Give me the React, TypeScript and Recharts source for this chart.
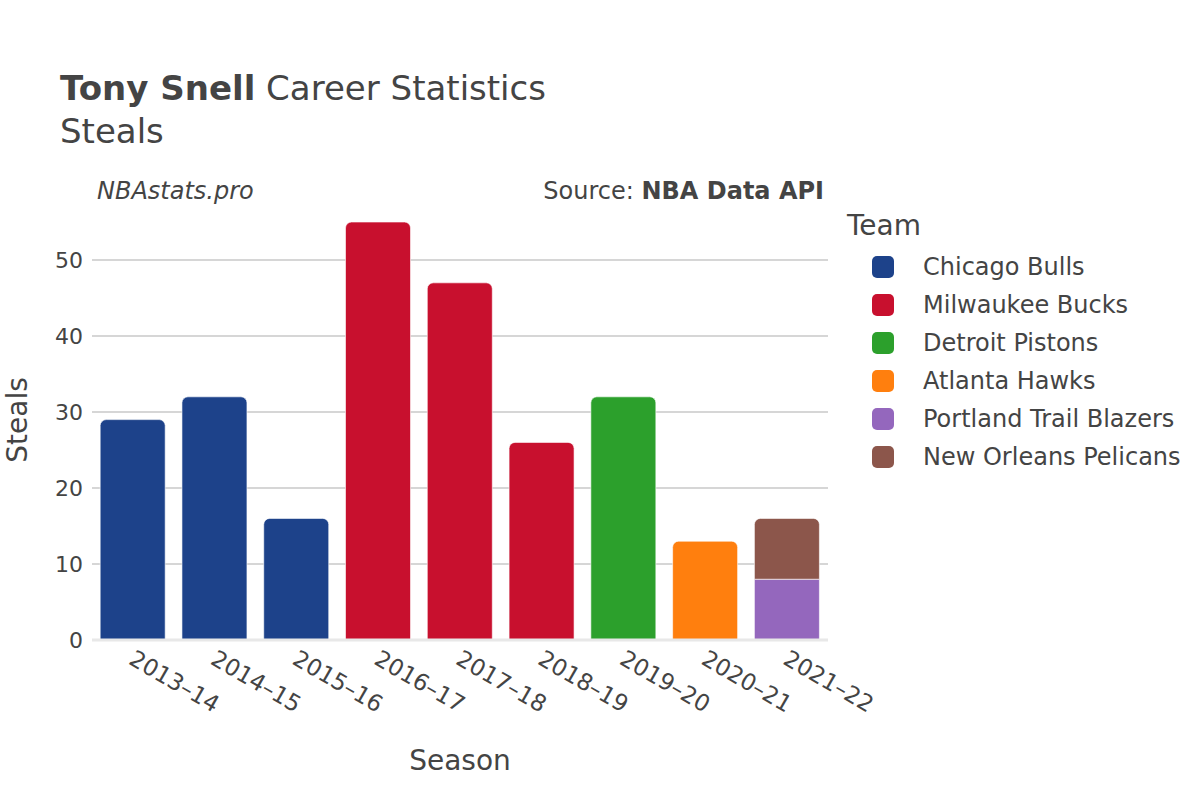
import React from "react";
import {
  BarChart,
  Bar,
  XAxis,
  YAxis,
  CartesianGrid,
  ReferenceLine,
} from "recharts";

const seasons = [
  "2013–14",
  "2014–15",
  "2015–16",
  "2016–17",
  "2017–18",
  "2018–19",
  "2019–20",
  "2020–21",
  "2021–22",
];

const teams = [
  "Chicago Bulls",
  "Milwaukee Bucks",
  "Detroit Pistons",
  "Atlanta Hawks",
  "Portland Trail Blazers",
  "New Orleans Pelicans",
];

const teamColors = ["#1D428A", "#C8102E", "#2CA02C", "#FF7F0E", "#9467BD", "#8C564B"];

// steals per season for each team (0 = did not play for them)
const chicagoBulls = [29, 32, 16, 0, 0, 0, 0, 0, 0];
const milwaukeeBucks = [0, 0, 0, 55, 47, 26, 0, 0, 0];
const detroitPistons = [0, 0, 0, 0, 0, 0, 32, 0, 0];
const atlantaHawks = [0, 0, 0, 0, 0, 0, 0, 13, 0];
const portlandTrailBlazers = [0, 0, 0, 0, 0, 0, 0, 0, 8];
const newOrleansPelicans = [0, 0, 0, 0, 0, 0, 0, 0, 8];

const yTicks = [0, 10, 20, 30, 40, 50];

const teamValues = [
  chicagoBulls,
  milwaukeeBucks,
  detroitPistons,
  atlantaHawks,
  portlandTrailBlazers,
  newOrleansPelicans,
];

const data = seasons.map((season, i) => {
  const row: Record<string, string | number | null> = { season };
  teams.forEach((team, t) => {
    row[team] = teamValues[t][i] || null;
  });
  return row;
});

const FONT = "DejaVu Sans, sans-serif";
const TEXT = "#444";

function SeasonTick(props: any) {
  const { x, y, payload } = props;
  return (
    <g transform={`translate(${x},${y}) rotate(30)`}>
      <text x={3} y={16} textAnchor="start" fontSize={23} fill={TEXT} fontFamily={FONT}>
        {payload.value}
      </text>
    </g>
  );
}

export default function App() {
  return (
    <div
      style={{
        position: "absolute",
        left: 0,
        top: 0,
        width: 1200,
        height: 800,
        background: "#fff",
        fontFamily: FONT,
        color: TEXT,
      }}
    >
      <BarChart
        width={1200}
        height={800}
        data={data}
        margin={{ top: 200, right: 372, left: 32, bottom: 60 }}
        barCategoryGap="10%"
      >
        <CartesianGrid
          vertical={false}
          horizontalValues={yTicks.slice(1)}
          stroke="#c8c8c8"
          strokeWidth={1.5}
        />
        <XAxis
          dataKey="season"
          axisLine={false}
          tickLine={false}
          tick={<SeasonTick />}
          interval={0}
          height={100}
        />
        <YAxis
          width={60}
          domain={[0, 57.9]}
          ticks={yTicks}
          axisLine={false}
          tickLine={false}
          tick={{ fill: TEXT, fontSize: 22, fontFamily: FONT }}
          tickMargin={3}
        />
        <ReferenceLine y={0} stroke="#e8e8e8" strokeWidth={3} />
        {teams.map((team, t) => (
          <Bar
            key={team}
            dataKey={team}
            stackId="a"
            fill={teamColors[t]}
            stroke="#ffffff"
            strokeWidth={1}
            strokeOpacity={0.6}
            radius={team === "Portland Trail Blazers" ? 0 : [6, 6, 0, 0]}
            isAnimationActive={false}
          />
        ))}
      </BarChart>

      <div style={{ position: "absolute", left: 60, top: 68, fontSize: 34, whiteSpace: "nowrap", lineHeight: "40px" }}>
        <b>Tony Snell</b> Career Statistics
      </div>
      <div style={{ position: "absolute", left: 60, top: 111, fontSize: 34, lineHeight: "40px" }}>Steals</div>
      <div style={{ position: "absolute", left: 97, top: 177, fontSize: 24, fontStyle: "italic" }}>NBAstats.pro</div>
      <div style={{ position: "absolute", right: 376, top: 177, fontSize: 24, whiteSpace: "nowrap" }}>
        Source: <b>NBA Data API</b>
      </div>
      <div
        style={{
          position: "absolute",
          left: 17,
          top: 420,
          fontSize: 28,
          transform: "translate(-50%, -50%) rotate(-90deg)",
          whiteSpace: "nowrap",
        }}
      >
        Steals
      </div>
      <div
        style={{
          position: "absolute",
          left: 460,
          top: 760,
          fontSize: 28,
          transform: "translate(-50%, -50%)",
        }}
      >
        Season
      </div>

      <div style={{ position: "absolute", left: 847, top: 209, fontSize: 28 }}>Team</div>
      {teams.map((team, t) => (
        <div
          key={team}
          style={{
            position: "absolute",
            left: 872,
            top: 255 + t * 38,
            height: 24,
            display: "flex",
            alignItems: "center",
            whiteSpace: "nowrap",
          }}
        >
          <div
            style={{
              width: 22,
              height: 22,
              borderRadius: 5,
              background: teamColors[t],
              marginRight: 29,
            }}
          />
          <span style={{ fontSize: 24 }}>{team}</span>
        </div>
      ))}
    </div>
  );
}
